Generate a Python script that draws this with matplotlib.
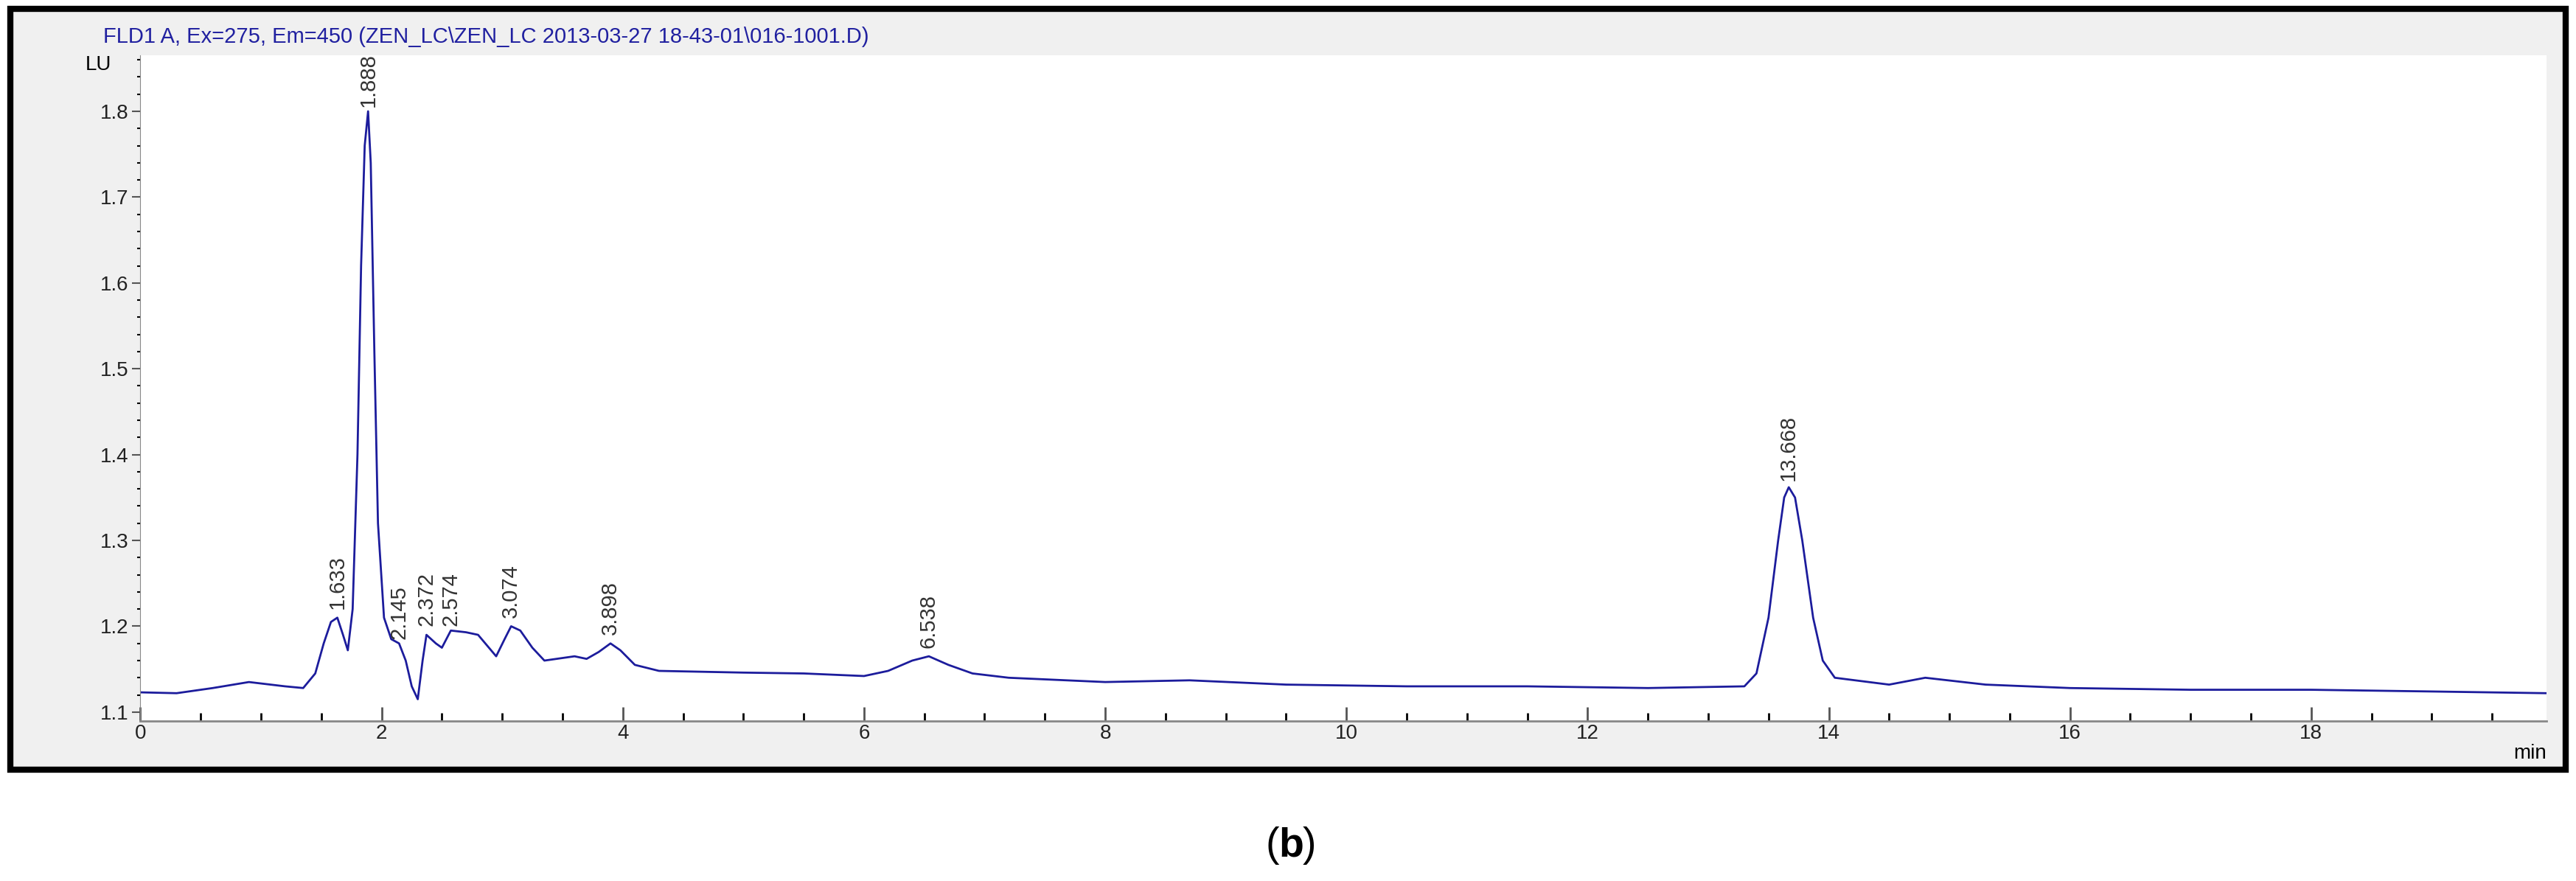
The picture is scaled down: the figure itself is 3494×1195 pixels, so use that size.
import matplotlib
matplotlib.use("Agg")
import matplotlib.pyplot as plt
from matplotlib.patches import Rectangle
from matplotlib.ticker import MultipleLocator

plt.rcParams['font.family'] = ['Liberation Sans', 'DejaVu Sans']

time_min = [0.0, 0.3, 0.6, 0.9, 1.2, 1.35, 1.45, 1.52, 1.58, 1.633, 1.68, 1.72, 1.76, 1.80, 1.83, 1.86,
            1.888, 1.91, 1.94, 1.97, 2.02, 2.08, 2.145, 2.2, 2.25, 2.3, 2.34, 2.372, 2.45, 2.5, 2.574,
            2.7, 2.8, 2.95, 3.02, 3.074, 3.15, 3.25, 3.35, 3.5, 3.6, 3.7, 3.8, 3.898, 3.98, 4.1,
            4.3, 5.0, 5.5, 6.0, 6.2, 6.4, 6.538, 6.7, 6.9, 7.2, 8.0, 8.7, 9.5, 10.5, 11.5, 12.5,
            13.3, 13.4, 13.5, 13.58, 13.63, 13.668, 13.72, 13.78, 13.87, 13.95, 14.05, 14.5, 14.8,
            15.3, 16.0, 17.0, 18.0, 19.0, 19.95]
signal_lu = [1.123, 1.122, 1.128, 1.135, 1.13, 1.128, 1.145, 1.18, 1.205, 1.21, 1.19, 1.172, 1.22, 1.40, 1.62, 1.76,
             1.80, 1.74, 1.52, 1.32, 1.21, 1.185, 1.18, 1.16, 1.13, 1.115, 1.16, 1.19, 1.18, 1.175, 1.195,
             1.193, 1.19, 1.165, 1.185, 1.20, 1.195, 1.175, 1.16, 1.163, 1.165, 1.162, 1.17, 1.18, 1.172, 1.155,
             1.148, 1.146, 1.145, 1.142, 1.148, 1.16, 1.165, 1.155, 1.145, 1.14, 1.135, 1.137, 1.132, 1.13, 1.13,
             1.128, 1.13, 1.145, 1.21, 1.30, 1.35, 1.362, 1.35, 1.30, 1.21, 1.16, 1.14, 1.132, 1.14,
             1.132, 1.128, 1.126, 1.126, 1.124, 1.122]

peak_times = [1.633, 1.888, 2.145, 2.372, 2.574, 3.074, 3.898, 6.538, 13.668]
peak_labels = ["1.633", "1.888", "2.145", "2.372", "2.574", "3.074", "3.898", "6.538", "13.668"]
peak_label_y = [1.22, 1.805, 1.185, 1.20, 1.20, 1.21, 1.19, 1.175, 1.37]

fig = plt.figure(figsize=(34.94, 11.95), dpi=100)
fig.patch.set_facecolor('white')
bg = fig.add_axes([0, 0, 1, 1], zorder=-5)
bg.set_axis_off()
bg.set_xlim(0, 1); bg.set_ylim(0, 1)
bg.add_patch(Rectangle((0.004, 0.126), 0.992, 0.864, facecolor='#f0f0f0',
                       edgecolor='black', linewidth=6))
bg.text(0.04, 0.958, "FLD1 A, Ex=275, Em=450 (ZEN_LC\\ZEN_LC 2013-03-27 18-43-01\\016-1001.D)",
        color='#2020a0', fontsize=21, va='center')
bg.text(0.4965, 0.04, "(", fontsize=40, ha='right', va='center')
bg.text(0.4965, 0.04, "b", fontsize=40, ha='left', va='center', fontweight='bold')
bg.text(0.5055, 0.04, ")", fontsize=40, ha='left', va='center')

ax = fig.add_axes([0.0545, 0.182, 0.934, 0.755])
ax.set_facecolor('white')
ax.plot(time_min, signal_lu, color='#1c1c9c', linewidth=2)
for t, lab, yy in zip(peak_times, peak_labels, peak_label_y):
    ax.text(t, yy, lab, rotation=90, ha='center', va='bottom', fontsize=21, color='#333333')
ax.set_xlim(0, 19.95)
ax.set_ylim(1.09, 1.865)
ax.xaxis.set_major_locator(MultipleLocator(2))
ax.xaxis.set_minor_locator(MultipleLocator(0.5))
ax.yaxis.set_major_locator(MultipleLocator(0.1))
ax.yaxis.set_minor_locator(MultipleLocator(0.02))
for s in ['top', 'right']:
    ax.spines[s].set_visible(False)
ax.spines['left'].set_color('#888888')
ax.spines['bottom'].set_color('#888888')
ax.spines['bottom'].set_linewidth(2)
ax.tick_params(axis='both', colors='#555555', labelcolor='#222222', labelsize=20)
ax.tick_params(axis='x', which='major', length=14, width=2, direction='in')
ax.tick_params(axis='x', which='minor', length=8, width=2, direction='in')
ax.tick_params(axis='y', which='major', length=8, width=1.5)
ax.tick_params(axis='y', which='minor', length=3, width=1.5)
ax.set_xticks([0, 2, 4, 6, 8, 10, 12, 14, 16, 18])
ax.text(-0.012, 1.0, "LU", transform=ax.transAxes, ha='right', va='top', fontsize=20)
ax.text(1.0, -0.035, "min", transform=ax.transAxes, ha='right', va='top', fontsize=20)
fig.savefig("out.png", dpi=100)
